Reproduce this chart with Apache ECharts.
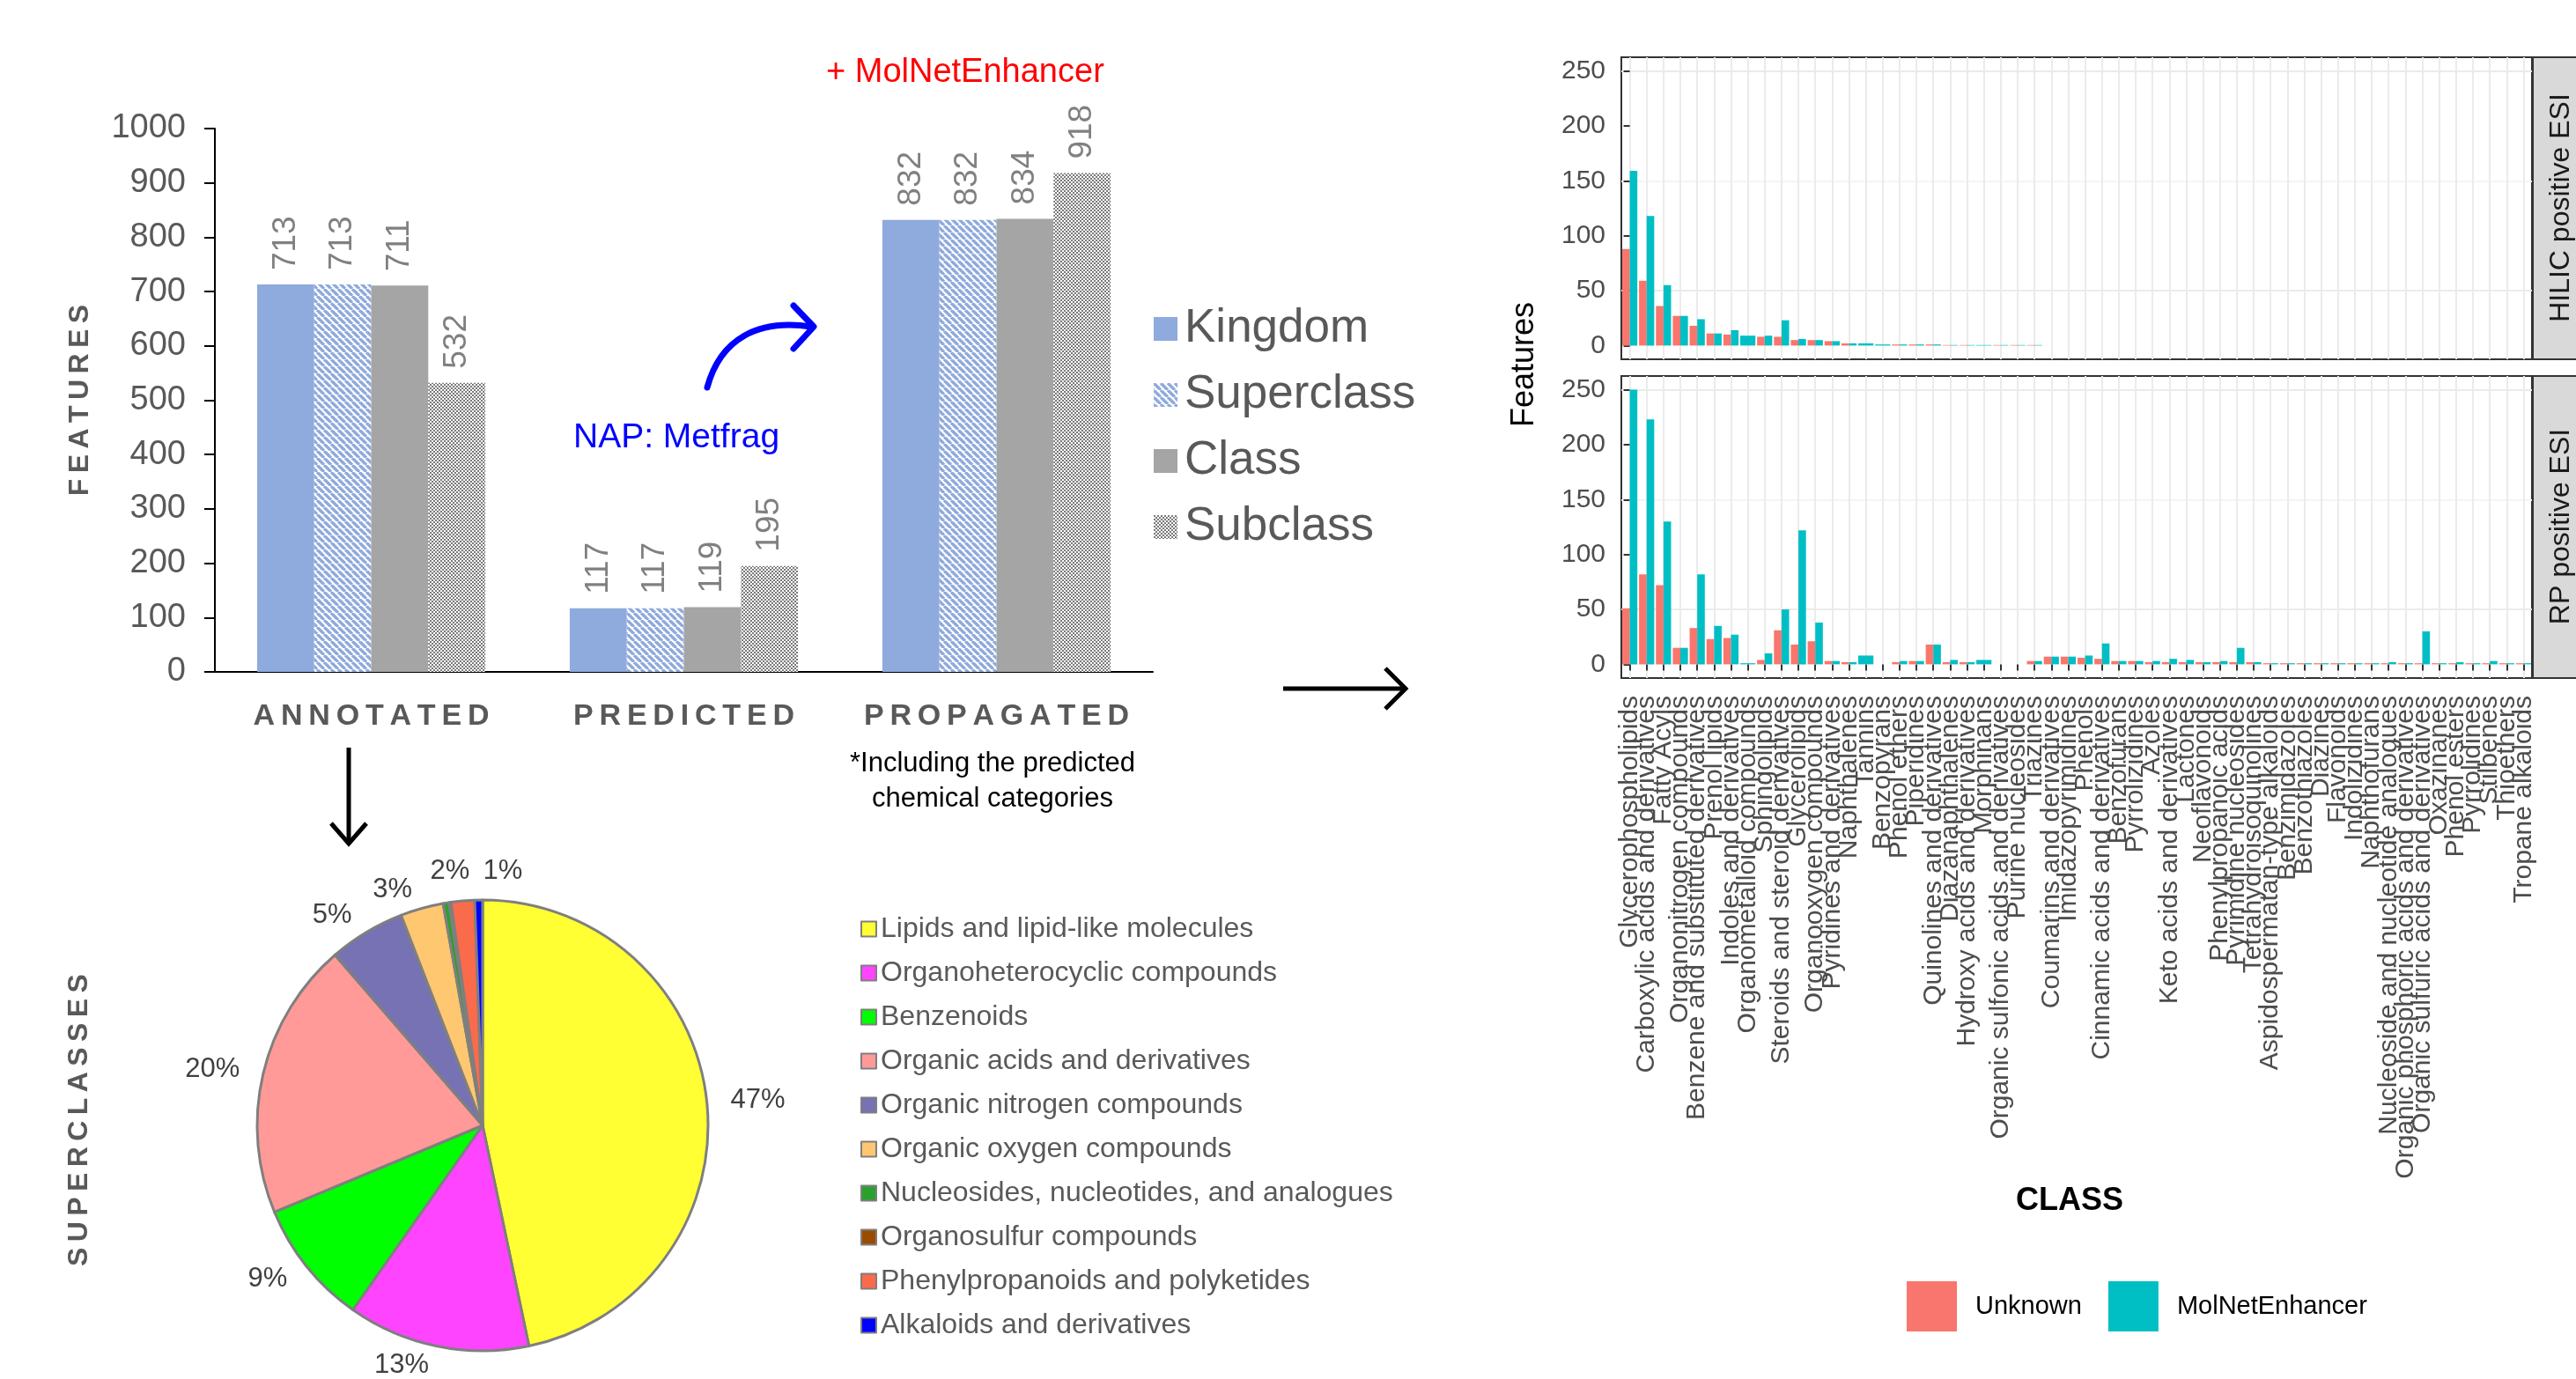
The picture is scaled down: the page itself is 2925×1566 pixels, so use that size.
<!DOCTYPE html>
<html><head><meta charset="utf-8">
<script src="https://cdn.jsdelivr.net/npm/echarts@6/dist/echarts.min.js"></script>
<style>html,body{margin:0;padding:0;background:#fff}#c{width:2925px;height:1566px}</style>
</head><body><div id="c"></div>
<script>
// ---------------- DATA ----------------
const stages = ['ANNOTATED', 'PREDICTED', 'PROPAGATED'];
const levels = ['Kingdom', 'Superclass', 'Class', 'Subclass'];
const kingdomVals = [713, 117, 832];
const superclassVals = [713, 117, 832];
const classVals = [711, 119, 834];
const subclassVals = [532, 195, 918];

const superclassNames = ['Lipids and lipid-like molecules', 'Organoheterocyclic compounds', 'Benzenoids',
  'Organic acids and derivatives', 'Organic nitrogen compounds', 'Organic oxygen compounds',
  'Nucleosides, nucleotides, and analogues', 'Organosulfur compounds',
  'Phenylpropanoids and polyketides', 'Alkaloids and derivatives'];
const superclassCounts = [333, 93, 64, 142, 39, 22, 3, 1, 12, 4];

const classes = ['Glycerophospholipids', 'Carboxylic acids and derivatives', 'Fatty Acyls', 'Organonitrogen compounds',
  'Benzene and substituted derivatives', 'Prenol lipids', 'Indoles and derivatives', 'Organometalloid compounds',
  'Sphingolipids', 'Steroids and steroid derivatives', 'Glycerolipids', 'Organooxygen compounds',
  'Pyridines and derivatives', 'Naphthalenes', 'Tannins', 'Benzopyrans', 'Phenol ethers', 'Piperidines',
  'Quinolines and derivatives', 'Diazanaphthalenes', 'Hydroxy acids and derivatives', 'Morphinans',
  'Organic sulfonic acids and derivatives', 'Purine nucleosides', 'Triazines', 'Coumarins and derivatives',
  'Imidazopyrimidines', 'Phenols', 'Cinnamic acids and derivatives', 'Benzofurans', 'Pyrrolizidines', 'Azoles',
  'Keto acids and derivatives', 'Lactones', 'Neoflavonoids', 'Phenylpropanoic acids', 'Pyrimidine nucleosides',
  'Tetrahydroisoquinolines', 'Aspidospermatan-type alkaloids', 'Benzimidazoles', 'Benzothiazoles', 'Diazines',
  'Flavonoids', 'Indolizidines', 'Naphthofurans', 'Nucleoside and nucleotide analogues',
  'Organic phosphoric acids and derivatives', 'Organic sulfuric acids and derivatives', 'Oxazinanes',
  'Phenol esters', 'Pyrrolidines', 'Stilbenes', 'Thioethers', 'Tropane alkaloids'];

const hilicUnknown = [88, 59, 36, 27, 18, 11, 10, null, 8, 8, 5, 5, 4, 2, null, null, 1, 1, 1, 0.5, 0.5, null, 0.5, 0.5, 0.5,
  null, null, null, null, null, null, null, null, null, null, null, null, null, null, null, null, null, null, null, null,
  null, null, null, null, null, null, null, null, null];
const hilicMolNet = [159, 118, 55, 27, 24, 11, 14, 9, 9, 23, 6, 5, 4, 2, 2, 1, 1, 1, 1, 0.5, 0.5, 0.5, 0.5, 0.5, 0.5,
  null, null, null, null, null, null, null, null, null, null, null, null, null, null, null, null, null, null, null, null,
  null, null, null, null, null, null, null, null, null];
const rpUnknown = [51, 82, 72, 15, 33, 23, 24, null, 4, 31, 18, 21, 3, 2, null, null, 2, 3, 18, 2, 2, null, null, null, 3,
  7, 7, 6, 5, 3, 3, 2, 2, 2, 2, 2, 2, 2, 1, 1, 1, 1, 1, 1, 1, 1, 1, 1, 1, 1, 1, 1, 1, 1];
const rpMolNet = [250, 223, 130, 15, 82, 35, 27, 1, 10, 50, 122, 38, 3, 2, 8, null, 3, 3, 18, 4, 2, 4, null, null, 3,
  7, 7, 8, 19, 3, 3, 3, 5, 4, 2, 3, 15, 2, 1, 1, 1, 1, 1, 1, 1, 2, 1, 30, 1, 2, 1, 3, 1, 1];

const yTicksRight = [0, 50, 100, 150, 200, 250];

// ---------------- STYLE ----------------
const FONT = '"Liberation Sans", Arial, Helvetica, sans-serif';
const BLUE = '#8FAADC', GREY = '#A5A5A5';
const RED = '#F8766D', CYAN = '#00BFC4';
const pieColors = ['#FFFF33', '#FF44FF', '#00FF00', '#FF9A98', '#7672B4', '#FFC770', '#2CA02C', '#994C00', '#FA6B4B', '#0000FF'];
// label anchor tweaks for the crowded top slices (index -> [x, y])
const pieLabelSpots = { 8: [511, 989], 9: [571, 989] };

function stripePattern() {
  const c = document.createElement('canvas'); c.width = 8; c.height = 8;
  const g = c.getContext('2d');
  g.fillStyle = '#fff'; g.fillRect(0, 0, 8, 8);
  g.strokeStyle = BLUE; g.lineWidth = 3.4;
  for (const o of [-8, 0, 8]) { g.beginPath(); g.moveTo(o, 0); g.lineTo(o + 8, 8); g.stroke(); }
  return c;
}
function checkerPattern() {
  const c = document.createElement('canvas'); c.width = 4; c.height = 4;
  const g = c.getContext('2d');
  g.fillStyle = '#fff'; g.fillRect(0, 0, 4, 4);
  g.fillStyle = '#7A7A7A'; g.fillRect(0, 0, 2, 2); g.fillRect(2, 2, 2, 2);
  return c;
}
const spaced = s => s.split('').join('\u2009');

const chart = echarts.init(document.getElementById('c'));

function pairData(self, other) {
  return self.map((v, i) => v == null ? null : [i, v, other[i] == null ? 0 : 1]).filter(d => d);
}
function makeBarRenderer(color, side) {
  return function (params, api) {
    const i = api.value(0), v = api.value(1), paired = api.value(2);
    const top = api.coord([i, v]);
    const base = api.coord([i, 0]);
    const band = api.size([1, 0])[0];
    const full = band * 0.9;
    const w = paired ? full / 2 : full;
    const x = top[0] - full / 2 + (paired && side === 1 ? full / 2 : 0);
    return { type: 'rect', shape: { x: x, y: top[1], width: w, height: base[1] - top[1] }, style: { fill: color } };
  };
}

const total = superclassCounts.reduce((a, b) => a + b, 0);

const barLabel = { show: true, position: 'top', rotate: 90, align: 'left', verticalAlign: 'middle', distance: 16,
  color: '#808080', fontSize: 37, fontFamily: FONT };

const rightY = (gi) => ({
  gridIndex: gi, type: 'value', min: -12.5, max: 262.5, interval: 12.5,
  axisLine: { show: false },
  axisTick: { show: true, customValues: yTicksRight, length: 7, lineStyle: { color: '#333', width: 2 } },
  axisLabel: { customValues: yTicksRight, formatter: v => (v >= 0 && v % 50 === 0) ? String(v) : '',
    fontSize: 30, color: '#4D4D4D', fontFamily: FONT, margin: 18 },
  splitLine: { show: true, lineStyle: { color: ['rgba(0,0,0,0)', '#EBEBEB', 'rgba(0,0,0,0)', '#F4F4F4'], width: 2 } }
});
const vGridX = (gi) => ({
  gridIndex: gi, type: 'value', min: -0.5, max: 53.5, interval: 0.5,
  axisLine: { show: false }, axisTick: { show: false }, axisLabel: { show: false },
  splitLine: { show: true, lineStyle: { color: ['rgba(0,0,0,0)', '#EBEBEB'], width: 2 } }
});

const option = {
  animation: false,
  backgroundColor: '#fff',
  textStyle: { fontFamily: FONT },
  grid: [
    { left: 244, top: 146, width: 1065, height: 617 },
    { left: 1841, top: 65, width: 1034, height: 343, show: true, borderColor: '#333', borderWidth: 2, backgroundColor: '#fff' },
    { left: 1841, top: 427, width: 1034, height: 343, show: true, borderColor: '#333', borderWidth: 2, backgroundColor: '#fff' }
  ],
  legend: [
    { data: levels, orient: 'vertical', left: 1305, top: 342, itemWidth: 27, itemHeight: 27, itemGap: 22, icon: 'rect',
      textStyle: { fontSize: 53, lineHeight: 53, color: '#595959', fontFamily: FONT, padding: [0, 0, 0, 3] } },
    { data: superclassNames, orient: 'vertical', left: 972, top: 1034, itemWidth: 17, itemHeight: 17, itemGap: 18, icon: 'rect',
      itemStyle: { borderColor: '#7F7F7F', borderWidth: 2 },
      textStyle: { fontSize: 32, lineHeight: 32, color: '#595959', fontFamily: FONT } },
    { data: ['Unknown', 'MolNetEnhancer'], orient: 'horizontal', left: 2160, top: 1450, itemWidth: 57, itemHeight: 57,
      itemGap: 30, icon: 'rect',
      textStyle: { fontSize: 29, color: '#000', fontFamily: FONT, padding: [0, 0, 0, 16] } }
  ],
  xAxis: [
    { gridIndex: 0, type: 'category', data: stages,
      axisLine: { lineStyle: { color: '#000', width: 2 } }, axisTick: { show: false },
      axisLabel: { interval: 0, formatter: s => spaced(s), fontSize: 34, fontWeight: 'bold', color: '#595959', margin: 34, fontFamily: FONT } },
    { gridIndex: 1, type: 'category', data: classes, axisLine: { show: false }, axisTick: { show: false }, axisLabel: { show: false } },
    { gridIndex: 2, type: 'category', data: classes, axisLine: { show: false },
      axisTick: { show: true, alignWithLabel: true, interval: 0, length: 7, lineStyle: { color: '#333', width: 2 } },
      axisLabel: { interval: 0, rotate: 90, fontSize: 30, color: '#4D4D4D', margin: 20, fontFamily: FONT } },
    vGridX(1), vGridX(2)
  ],
  yAxis: [
    { gridIndex: 0, type: 'value', min: 0, max: 1000, interval: 100,
      axisLine: { show: true, lineStyle: { color: '#000', width: 2 } },
      axisTick: { show: true, length: 12, lineStyle: { color: '#000', width: 2 } },
      axisLabel: { formatter: v => String(v), fontSize: 38, color: '#595959', margin: 33, fontFamily: FONT },
      splitLine: { show: false },
      name: spaced('FEATURES'), nameLocation: 'middle', nameRotate: 90, nameGap: 137,
      nameTextStyle: { fontSize: 32, fontWeight: 'bold', color: '#595959', fontFamily: FONT } },
    rightY(1), rightY(2)
  ],
  series: [
    { name: 'Kingdom', type: 'bar', xAxisIndex: 0, yAxisIndex: 0, data: kingdomVals, barGap: '0%', barCategoryGap: '27%',
      itemStyle: { color: BLUE }, label: barLabel },
    { name: 'Superclass', type: 'bar', xAxisIndex: 0, yAxisIndex: 0, data: superclassVals, barGap: '0%', barCategoryGap: '27%',
      itemStyle: { color: { image: stripePattern(), repeat: 'repeat' } }, label: barLabel },
    { name: 'Class', type: 'bar', xAxisIndex: 0, yAxisIndex: 0, data: classVals, barGap: '0%', barCategoryGap: '27%',
      itemStyle: { color: GREY }, label: barLabel },
    { name: 'Subclass', type: 'bar', xAxisIndex: 0, yAxisIndex: 0, data: subclassVals, barGap: '0%', barCategoryGap: '27%',
      itemStyle: { color: { image: checkerPattern(), repeat: 'repeat' } }, label: barLabel },
    { name: 'Superclasses', type: 'pie', center: [548, 1278], radius: 256, startAngle: 90, clockwise: true,
      avoidLabelOverlap: false,
      itemStyle: { borderColor: '#7F7F7F', borderWidth: 3 },
      label: { show: true, position: 'outside', formatter: p => Math.round(p.percent) + '%', fontSize: 31, color: '#404040', fontFamily: FONT },
      labelLine: { show: false, length: 22, length2: 0 },
      labelLayout: function (p) {
        const s = pieLabelSpots[p.dataIndex];
        return s ? { x: s[0], y: s[1], align: 'center', verticalAlign: 'middle' } : {};
      },
      emphasis: { disabled: true },
      data: superclassNames.map((n, i) => ({ name: n, value: superclassCounts[i], itemStyle: { color: pieColors[i] },
        label: { show: superclassCounts[i] / total >= 0.005 } })) },
    { name: 'Unknown', type: 'custom', xAxisIndex: 1, yAxisIndex: 1, itemStyle: { color: RED },
      renderItem: makeBarRenderer(RED, 0), encode: { x: 0, y: 1 }, data: pairData(hilicUnknown, hilicMolNet) },
    { name: 'MolNetEnhancer', type: 'custom', xAxisIndex: 1, yAxisIndex: 1, itemStyle: { color: CYAN },
      renderItem: makeBarRenderer(CYAN, 1), encode: { x: 0, y: 1 }, data: pairData(hilicMolNet, hilicUnknown) },
    { name: 'Unknown', type: 'custom', xAxisIndex: 2, yAxisIndex: 2, itemStyle: { color: RED },
      renderItem: makeBarRenderer(RED, 0), encode: { x: 0, y: 1 }, data: pairData(rpUnknown, rpMolNet) },
    { name: 'MolNetEnhancer', type: 'custom', xAxisIndex: 2, yAxisIndex: 2, itemStyle: { color: CYAN },
      renderItem: makeBarRenderer(CYAN, 1), encode: { x: 0, y: 1 }, data: pairData(rpMolNet, rpUnknown) }
  ],
  graphic: [
    { type: 'text', left: 938, top: 64, style: { text: '+ MolNetEnhancer', font: '38px ' + FONT, fill: '#FF0000' } },
    { type: 'text', left: 651, top: 478, style: { text: 'NAP: Metfrag', font: '39px ' + FONT, fill: '#0000FF' } },
    { type: 'bezierCurve', shape: { x1: 803, y1: 440, cpx1: 818, cpy1: 385, cpx2: 860, cpy2: 362, x2: 921, y2: 371 },
      style: { stroke: '#0000FF', lineWidth: 7, fill: null, lineCap: 'round' } },
    { type: 'polyline', shape: { points: [[901, 347], [924, 371], [901, 396]] },
      style: { stroke: '#0000FF', lineWidth: 7, fill: null, lineCap: 'round', lineJoin: 'round' } },
    { type: 'text', x: 1127, y: 867, style: { text: '*Including the predicted', font: '31px ' + FONT, fill: '#000', textAlign: 'center', textVerticalAlign: 'middle' } },
    { type: 'text', x: 1127, y: 907, style: { text: 'chemical categories', font: '31px ' + FONT, fill: '#000', textAlign: 'center', textVerticalAlign: 'middle' } },
    { type: 'line', shape: { x1: 396, y1: 849, x2: 396, y2: 956 }, style: { stroke: '#000', lineWidth: 5 } },
    { type: 'polyline', shape: { points: [[376, 935], [396, 958], [416, 935]] }, style: { stroke: '#000', lineWidth: 5, fill: null } },
    { type: 'line', shape: { x1: 1457, y1: 782, x2: 1594, y2: 782 }, style: { stroke: '#000', lineWidth: 5 } },
    { type: 'polyline', shape: { points: [[1573, 759], [1596, 782], [1573, 805]] }, style: { stroke: '#000', lineWidth: 5, fill: null } },
    { type: 'text', x: 90, y: 1272, rotation: Math.PI / 2,
      style: { text: spaced('SUPERCLASSES'), font: 'bold 32px ' + FONT, fill: '#595959', textAlign: 'center', textVerticalAlign: 'middle' } },
    { type: 'text', x: 1731, y: 414, rotation: Math.PI / 2,
      style: { text: 'Features', font: '36px ' + FONT, fill: '#000', textAlign: 'center', textVerticalAlign: 'middle' } },
    { type: 'text', x: 2350, y: 1364,
      style: { text: 'CLASS', font: 'bold 36px ' + FONT, fill: '#000', textAlign: 'center', textVerticalAlign: 'middle' } },
    { type: 'rect', shape: { x: 2876, y: 65, width: 70, height: 343 }, style: { fill: '#D9D9D9', stroke: '#333', lineWidth: 2 } },
    { type: 'rect', shape: { x: 2876, y: 427, width: 70, height: 343 }, style: { fill: '#D9D9D9', stroke: '#333', lineWidth: 2 } },
    { type: 'text', x: 2908, y: 236, rotation: Math.PI / 2,
      style: { text: 'HILIC positive ESI', font: '32px ' + FONT, fill: '#1A1A1A', textAlign: 'center', textVerticalAlign: 'middle' } },
    { type: 'text', x: 2908, y: 598, rotation: Math.PI / 2,
      style: { text: 'RP positive ESI', font: '32px ' + FONT, fill: '#1A1A1A', textAlign: 'center', textVerticalAlign: 'middle' } }
  ]
};
chart.setOption(option);
</script>
</body></html>
